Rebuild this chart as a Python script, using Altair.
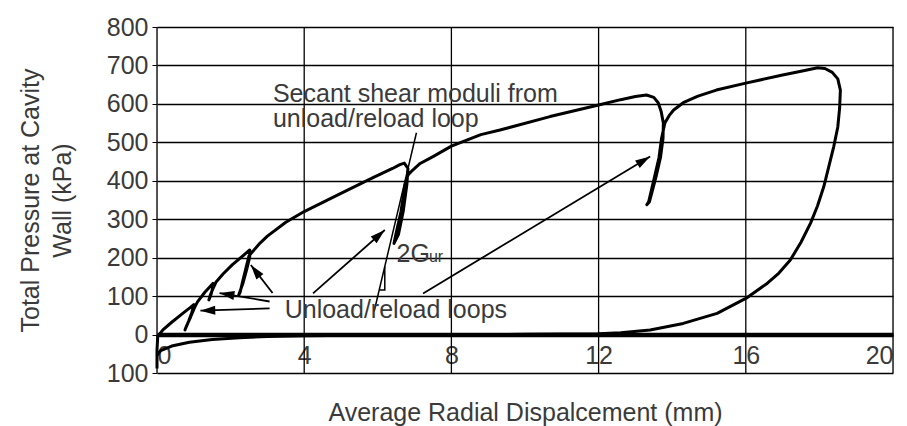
import math
import altair as alt
import pandas as pd

# ---- data ----
curve_x = [0.0, 0.0, 0.02, 0.16, 0.4, 0.7, 0.9, 1.0, 0.95, 0.86, 0.76, 0.8, 0.91, 1.02, 1.1, 1.3, 1.52,
           1.51, 1.47, 1.41, 1.44, 1.5, 1.6, 1.8, 2.05, 2.3, 2.52, 2.52, 2.44, 2.34, 2.22, 2.26, 2.32, 2.41, 2.5,
           2.8, 3.0, 3.5, 4.0, 4.97, 5.87, 6.4, 6.6, 6.72, 6.82, 6.79, 6.69, 6.56, 6.44,
           6.49, 6.63, 6.74, 6.82, 6.95, 7.15, 7.5, 8.0, 8.8, 9.32, 10.68, 12.0, 12.6, 13.0, 13.3, 13.5,
           13.62, 13.7, 13.76, 13.75, 13.68, 13.56, 13.38, 13.31, 13.36, 13.52, 13.64, 13.71, 13.8, 13.92, 14.04,
           14.3, 14.7, 15.2, 16.0, 17.0, 17.6, 17.95, 18.15, 18.35, 18.5, 18.57, 18.55, 18.5, 18.39,
           18.25, 18.12, 17.95, 17.76, 17.5, 17.21, 16.9, 16.58, 16.0, 15.22, 14.3, 13.4, 12.6, 12.0,
           10.0, 8.0, 6.0, 4.0, 3.0, 2.24, 1.5, 0.88, 0.4, 0.1, 0.0]
curve_y = [-88, -40, -5, 12, 32, 55, 70, 78, 58, 35, 12, 22, 45, 70, 85, 110, 133,
           120, 105, 90, 100, 115, 136, 158, 182, 202, 220, 202, 170, 135, 103, 110, 135, 170, 205,
           238, 256, 292, 320, 366, 408, 432, 442, 446, 432, 390, 320, 260, 237,
           260, 320, 390, 415, 428, 445, 463, 490, 520, 532, 567, 597, 611, 619, 623, 617,
           603, 580, 550, 510, 460, 410, 345, 338, 345, 410, 460, 510, 550, 570, 584,
           603, 620, 636, 654, 675, 687, 694, 692, 682, 665, 636, 590, 540, 489,
           435, 385, 335, 290, 240, 194, 160, 133, 94, 55, 29, 12, 5, 2,
           0.5, 0, -1, -3, -5, -8, -13, -20, -30, -42, -55]

x_ticks = [0, 4, 8, 12, 16, 20]
y_ticks = [-100, 0, 100, 200, 300, 400, 500, 600, 700, 800]

secant_x = [7.05, 5.9]
secant_y = [525, 60]
tri_x = [6.04, 6.19, 6.19]
tri_y = [116, 116, 177]

arrow_tail_x = [3.14, 3.06, 3.06, 4.24, 7.23]
arrow_tail_y = [108, 86, 68, 107, 107]
arrow_tip_x = [2.55, 1.70, 1.18, 6.19, 13.40]
arrow_tip_y = [181, 108, 62, 272, 463]

notes = ["Secant shear moduli from", "unload/reload loop", "Unload/reload loops", "2G"]
note_x = [3.15, 3.15, 3.47, 6.51]
note_y = [606, 541, 42, 190]
sub_text = ["ur"]
sub_x = [7.39]
sub_y = [190]

# ---- layout ----
W, H = 736, 346
X_MIN, X_MAX, Y_MIN, Y_MAX = 0, 20, -100, 800
FONT = "Liberation Sans"
TXT = "#3a3a3a"
FS = 25

xscale = alt.Scale(domain=[X_MIN, X_MAX], nice=False, zero=False)
yscale = alt.Scale(domain=[Y_MIN, Y_MAX], nice=False, zero=False)

x_axis = alt.Axis(values=x_ticks, grid=False, offset=-H * (0 - Y_MIN) / (Y_MAX - Y_MIN),
                  domainColor="black", domainWidth=4.5, ticks=False, labelPadding=9,
                  labelFontSize=FS, labelColor=TXT, labelFont=FONT,
                  title="Average Radial Dispalcement (mm)", titleFontSize=FS, titleFont=FONT,
                  titleColor=TXT, titleFontWeight="normal", titlePadding=32)
y_axis = alt.Axis(values=y_ticks, grid=True, gridColor="black", gridWidth=1.3, gridOpacity=1,
                  domain=False, tickColor="black", tickSize=5, labelPadding=4,
                  labelFontSize=FS, labelColor=TXT, labelFont=FONT,
                  labelExpr="abs(datum.value)",
                  title=["Total Pressure at Cavity", "Wall (kPa)"], titleFontSize=FS,
                  titleFont=FONT, titleColor=TXT, titleFontWeight="normal",
                  titleLineHeight=32, titlePadding=31)


def X(f):
    return alt.X(f, type="quantitative", scale=xscale, axis=x_axis)


def Y(f):
    return alt.Y(f, type="quantitative", scale=yscale, axis=y_axis)


curve = pd.DataFrame({"x": curve_x, "y": curve_y, "i": range(len(curve_x))})
vgrid = pd.DataFrame({"x": x_ticks})
secant = pd.DataFrame({"x": secant_x, "y": secant_y, "i": range(len(secant_x))})
tri = pd.DataFrame({"x": tri_x, "y": tri_y, "i": range(len(tri_x))})

sx = W / (X_MAX - X_MIN)
sy = H / (Y_MAX - Y_MIN)
angles = []
for tx, ty, hx, hy in zip(arrow_tail_x, arrow_tail_y, arrow_tip_x, arrow_tip_y):
    a = math.degrees(math.atan2((hx - tx) * sx, (hy - ty) * sy)) % 360
    angles.append(a)
arrows = pd.DataFrame({"x": arrow_tail_x, "y": arrow_tail_y, "x2": arrow_tip_x,
                       "y2": arrow_tip_y, "ang": angles})
notes_df = pd.DataFrame({"t": notes, "x": note_x, "y": note_y})
sub_df = pd.DataFrame({"t": sub_text, "x": sub_x, "y": sub_y})

grid_layer = alt.Chart(vgrid).mark_rule(color="black", strokeWidth=1.3).encode(x=X("x"))

curve_layer = alt.Chart(curve).mark_line(color="black", strokeWidth=3, strokeJoin="round").encode(
    x=X("x"), y=Y("y"), order="i:Q")

secant_layer = alt.Chart(secant).mark_line(color="black", strokeWidth=1.5).encode(
    x=X("x"), y=Y("y"), order="i:Q")
tri_layer = alt.Chart(tri).mark_line(color="black", strokeWidth=1.5).encode(
    x=X("x"), y=Y("y"), order="i:Q")

shaft_layer = alt.Chart(arrows).mark_rule(color="black", strokeWidth=1.8).encode(
    x=X("x"), y=Y("y"), x2="x2:Q", y2="y2:Q")
head_layer = alt.Chart(arrows).mark_point(
    shape="M0,0L0.6,2L-0.6,2Z", size=220, filled=True, color="black", opacity=1,
    strokeWidth=0).encode(x=X("x2"), y=Y("y2"), angle=alt.Angle("ang:Q", scale=None))

note_layer = alt.Chart(notes_df).mark_text(
    align="left", baseline="alphabetic", font=FONT, fontSize=FS, color=TXT).encode(
    x=X("x"), y=Y("y"), text="t:N")
sub_layer = alt.Chart(sub_df).mark_text(
    align="left", baseline="alphabetic", font=FONT, fontSize=16, color=TXT).encode(
    x=X("x"), y=Y("y"), text="t:N")

chart = alt.layer(grid_layer, curve_layer, secant_layer, tri_layer, shaft_layer, head_layer,
                  note_layer, sub_layer).properties(
    width=W, height=H,
    autosize=alt.AutoSizeParams(type="none"),
    padding={"left": 149, "top": 19, "right": 6, "bottom": 53},
).configure_view(stroke=None).configure(font=FONT, background="white")

chart.save("out.html", embed_options={"renderer": "svg", "actions": False})
